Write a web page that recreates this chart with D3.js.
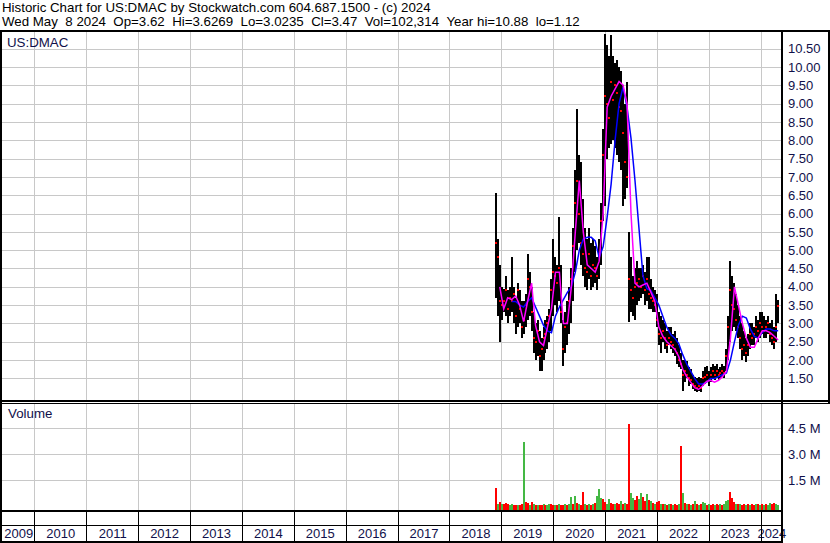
<!DOCTYPE html>
<html><head><meta charset="utf-8">
<script src="https://cdn.jsdelivr.net/npm/d3@7"></script>
<style>
body{margin:0;background:#fff;}
svg{display:block;font-family:"Liberation Sans",Arial,sans-serif;}
</style></head><body>
<svg id="c" width="830" height="543"></svg>
<script>
const headerLine1 = "Historic Chart for US:DMAC by Stockwatch.com 604.687.1500 - (c) 2024";
const headerLine2 = "Wed May  8 2024  Op=3.62  Hi=3.6269  Lo=3.0235  Cl=3.47  Vol=102,314  Year hi=10.88  lo=1.12";
const symbol = "US:DMAC";
const volumeTitle = "Volume";
const years = [2009,2010,2011,2012,2013,2014,2015,2016,2017,2018,2019,2020,2021,2022,2023,2024];
const priceTicks = [1.5,2,2.5,3,3.5,4,4.5,5,5.5,6,6.5,7,7.5,8,8.5,9,9.5,10,10.5];
const volumeTicks = [1.5,3.0,4.5];
const firstBarDate = "2018-11-23";
const barStepDays = 14;
const high = [6.55,5.3,4.6,4.0,3.95,4.3,3.9,4.0,4.8,4.0,
3.7,4.1,3.9,3.6,3.6,3.8,4.9,4.4,4.0,3.3,
3.0,3.1,2.8,2.6,2.9,3.1,3.2,3.4,4.2,5.3,
4.8,4.6,5.9,4.6,3.1,3.3,3.6,4.0,4.5,5.6,
7.2,8.84,7.6,7.4,6.4,5.6,5.3,5.6,5.2,5.3,
5.1,4.8,5.3,6.3,8.3,10.9,10.6,10.3,10.88,10.3,
10.1,10.2,10.0,9.9,9.5,9.0,9.6,5.5,4.8,4.3,
4.5,4.7,4.5,4.5,4.6,4.4,4.8,4.8,4.2,4.0,
3.9,3.8,3.3,3.2,3.1,3.0,2.8,2.9,2.9,2.7,
2.8,2.6,2.4,2.2,2.0,2.0,1.97,1.8,1.75,1.6,
1.55,1.5,1.55,1.5,1.7,1.8,1.85,1.7,1.8,1.9,
1.85,1.9,1.75,1.8,1.9,1.85,2.3,3.2,4.7,4.3,
4.1,3.8,3.5,3.2,3.0,2.8,2.6,2.7,3.0,3.0,
2.9,3.2,3.1,3.3,3.3,3.2,3.1,3.2,3.0,3.1,
2.9,3.8,3.63];
const low = [3.7,3.2,2.5,3.1,3.3,3.2,3.0,3.2,3.3,3.0,
2.7,2.9,3.0,2.6,2.7,2.9,3.1,3.2,2.8,2.2,
2.0,2.1,1.7,1.7,2.0,2.2,2.3,2.5,2.8,3.2,
3.5,3.3,3.6,3.0,1.85,2.2,2.4,2.7,3.0,3.6,
4.4,5.0,5.2,4.6,4.3,4.0,3.9,4.2,3.9,4.0,
4.1,3.9,4.2,4.6,5.8,6.2,7.5,7.8,7.9,8.0,
7.8,7.6,7.4,7.2,6.2,6.4,6.7,3.05,3.3,3.2,
3.1,3.5,3.6,3.7,3.8,3.5,3.6,3.4,3.4,3.3,
3.3,2.9,2.4,2.2,2.5,2.3,2.2,2.4,2.3,2.2,
2.1,1.9,1.8,1.75,1.15,1.4,1.5,1.3,1.35,1.2,
1.15,1.12,1.15,1.12,1.3,1.35,1.4,1.3,1.4,1.5,
1.45,1.5,1.45,1.5,1.55,1.5,1.7,2.0,2.5,2.8,
2.9,2.8,2.6,2.3,2.0,2.1,1.95,2.1,2.3,2.4,
2.4,2.6,2.5,2.6,2.7,2.6,2.6,2.7,2.5,2.4,
2.3,2.5,3.02];
const close = [5.2,4.8,3.6,3.5,3.6,3.9,3.4,3.7,3.6,3.8,
3.2,3.9,3.4,2.9,3.1,3.5,4.2,4.0,3.3,2.6,
2.5,2.8,2.1,2.3,2.6,2.7,3.0,3.2,3.9,4.4,
4.3,4.1,4.5,3.3,2.3,2.9,3.0,3.6,4.2,5.1,
6.3,6.9,6.0,5.2,4.9,4.5,4.4,4.9,4.3,4.6,
4.5,4.3,4.9,5.8,7.6,9.2,9.0,8.6,9.6,9.1,
9.5,9.3,8.9,8.8,8.2,7.4,7.0,4.2,3.9,3.7,
4.0,4.1,4.2,4.0,4.3,3.9,4.2,3.8,3.7,3.6,
3.5,3.1,2.7,2.6,2.8,2.6,2.4,2.6,2.5,2.4,
2.3,2.2,2.0,1.9,1.6,1.7,1.6,1.5,1.45,1.35,
1.3,1.25,1.3,1.25,1.5,1.55,1.6,1.45,1.6,1.7,
1.6,1.7,1.6,1.65,1.7,1.65,2.1,2.9,3.9,3.5,
3.4,3.1,2.9,2.6,2.3,2.4,2.2,2.4,2.7,2.6,
2.7,2.9,2.8,3.0,2.9,2.8,2.9,3.0,2.7,2.6,
2.5,2.9,3.47];
const volume = [1.07,0.15,0.25,0.12,0.15,0.18,0.12,0.1,0.13,0.1,
0.08,0.1,0.1,0.12,3.73,0.27,0.2,0.1,0.27,0.12,
0.1,0.08,0.1,0.08,0.12,0.1,0.08,0.15,0.12,0.1,
0.08,0.1,0.12,0.1,0.1,0.12,0.1,0.15,0.53,0.12,
0.6,0.2,0.15,0.1,0.83,0.12,0.1,0.15,0.1,0.13,
0.2,0.62,1.0,0.5,0.4,0.25,0.15,0.45,0.2,0.15,
0.12,0.18,0.15,0.3,0.12,0.2,0.15,4.75,0.78,0.48,
0.35,0.6,0.4,0.78,0.55,0.3,0.7,0.35,0.3,0.2,
0.15,0.25,0.32,0.15,0.12,0.15,0.1,0.12,0.15,0.1,
0.12,0.1,0.15,3.48,0.78,0.2,0.15,0.12,0.1,0.15,
0.3,0.12,0.1,0.12,0.25,0.2,0.1,0.15,0.1,0.12,
0.1,0.12,0.1,0.12,0.1,0.12,0.3,0.38,0.84,0.47,
0.25,0.15,0.12,0.15,0.1,0.12,0.1,0.12,0.1,0.12,
0.1,0.12,0.15,0.1,0.12,0.1,0.12,0.1,0.2,0.12,
0.18,0.12,0.1];
const volumeUp = [0,1,0,1,0,0,0,1,1,0,
0,1,0,0,1,0,0,1,0,1,
0,1,0,0,1,0,1,1,0,0,
1,0,1,0,0,1,0,1,1,0,
1,0,1,0,0,1,0,1,0,1,
0,1,1,1,0,0,1,1,0,0,
1,0,0,1,0,1,0,0,1,1,
0,0,1,1,0,0,1,0,1,0,
1,0,0,1,0,1,0,1,0,1,
0,0,1,0,1,0,1,0,1,0,
1,0,1,0,1,1,0,1,0,0,
1,0,0,1,0,1,1,1,0,0,
0,1,0,1,0,0,1,0,1,0,
0,1,0,1,0,1,0,1,1,0,
0,1,1];
// short moving average (magenta), one value every 2 bars starting at bar 2
const fastMAStartBar = 2;
const fastMA = [4.0,3.4,3.7,3.65,3.75,3.5,3.05,3.6,4.1,2.95,
2.5,2.4,2.9,3.4,4.4,4.4,3.0,3.0,4.0,5.5,
6.9,5.5,4.6,4.5,4.4,4.7,6.0,8.9,9.2,9.4,
9.6,9.5,9.0,6.0,4.1,4.0,4.05,4.1,3.85,3.6,
2.9,2.65,2.5,2.4,2.3,2.1,1.75,1.55,1.4,1.25,
1.2,1.3,1.42,1.45,1.4,1.45,1.55,1.7,2.6,4.0,
3.5,3.0,2.6,2.35,2.35,2.6,2.8,2.8,2.75,2.65,2.55];
// long moving average (blue), one value every 2 bars starting at bar 8
const slowMAStartBar = 8;
const slowMA = [3.6,3.6,3.5,3.45,3.6,3.7,3.45,3.2,2.95,2.8,
2.75,3.2,3.45,3.65,3.85,4.0,4.4,5.0,5.3,5.35,
5.35,5.25,4.8,5.1,5.9,6.8,8.0,9.0,9.45,8.9,
8.05,6.9,5.6,4.3,3.95,3.9,3.7,3.5,3.2,2.9,
2.7,2.6,2.45,2.15,1.9,1.7,1.5,1.35,1.35,1.4,
1.5,1.5,1.55,1.6,1.65,2.0,2.5,2.95,3.2,3.15,
2.85,2.65,2.6,2.75,2.85,2.85,2.8,2.8];

// ---------- layout ----------
const W = 830, H = 543;
const plotL = 2, plotR = 782, frameTop = 30;
const priceTop = 32, priceBottom = 400, volTop = 403, volBottom = 510;
const stripMid = 525, stripBottom = 542;
const textColor = "#10104a";

const svg = d3.select("#c");
svg.append("rect").attr("width", W).attr("height", H).attr("fill", "#fff");

const x = d3.scaleTime()
  .domain([new Date(2010,0,1), new Date(2024,0,1)])
  .range([34.4, 760.7]);
const y = d3.scaleLinear().domain([1, 11]).range([396.8, 30.2]);
const yv = d3.scaleLinear().domain([0, 4.5]).range([506.3, 428.3]);

const start = d3.timeParse("%Y-%m-%d")(firstBarDate);
const bars = high.map((h, i) => ({
  date: d3.timeDay.offset(start, barStepDays * i),
  hi: h, lo: low[i], cl: close[i], vol: volume[i], up: volumeUp[i]
}));

// header (spaces kept as non-breaking so the double gaps survive)
const keepSpaces = s => s.replace(/ /g, "\u00A0");
const header = svg.append("g").attr("fill", "#000").attr("font-size", "13.3px");
header.append("text").attr("x", 2).attr("y", 11.5).text(keepSpaces(headerLine1));
header.append("text").attr("x", 2).attr("y", 26).text(keepSpaces(headerLine2));

// grids
const grid = svg.append("g").attr("stroke", "#c8c8c8").attr("stroke-width", 1).attr("shape-rendering", "crispEdges");
const yearStarts = years.slice(1).map(yr => new Date(yr, 0, 1));
grid.selectAll(".vg1").data(yearStarts).join("line")
  .attr("x1", d => Math.round(x(d)) + 0.5).attr("x2", d => Math.round(x(d)) + 0.5)
  .attr("y1", priceTop).attr("y2", priceBottom);
grid.selectAll(".vg2").data(yearStarts).join("line")
  .attr("x1", d => Math.round(x(d)) + 0.5).attr("x2", d => Math.round(x(d)) + 0.5)
  .attr("y1", volTop).attr("y2", volBottom);
grid.selectAll(".hg").data(priceTicks).join("line")
  .attr("x1", plotL).attr("x2", plotR - 1)
  .attr("y1", d => Math.round(y(d)) + 0.5).attr("y2", d => Math.round(y(d)) + 0.5);
grid.selectAll(".hgv").data(volumeTicks).join("line")
  .attr("x1", plotL).attr("x2", plotR - 1)
  .attr("y1", d => Math.round(yv(d)) + 0.5).attr("y2", d => Math.round(yv(d)) + 0.5);

// volume bars
svg.append("g").attr("shape-rendering", "crispEdges")
  .selectAll("rect").data(bars).join("rect")
  .attr("x", d => Math.round(x(d.date)) - 1).attr("width", 2)
  .attr("y", d => Math.round(yv(d.vol)))
  .attr("height", d => volBottom - Math.round(yv(d.vol)))
  .attr("fill", d => d.up ? "#44b844" : "#ff0000");

// price bars
svg.append("g").attr("shape-rendering", "crispEdges")
  .selectAll("rect").data(bars).join("rect")
  .attr("x", d => Math.round(x(d.date)) - 1).attr("width", 2)
  .attr("y", d => Math.round(y(d.hi)))
  .attr("height", d => Math.max(1, Math.round(y(d.lo)) - Math.round(y(d.hi))))
  .attr("fill", "#000");
// close marks
svg.append("g").attr("shape-rendering", "crispEdges")
  .selectAll("rect").data(bars).join("rect")
  .attr("x", d => Math.round(x(d.date)) - 1).attr("width", 2)
  .attr("y", d => Math.round(y(d.cl)) - 1).attr("height", 2)
  .attr("fill", "#ff0000");

// moving averages
const fastPts = fastMA.map((v, k) => ({date: bars[fastMAStartBar + 2*k].date, v}));
const slowPts = slowMA.map((v, k) => ({date: bars[slowMAStartBar + 2*k].date, v}));
const maLine = d3.line().x(d => x(d.date)).y(d => y(d.v));
svg.append("path").datum(slowPts).attr("d", maLine)
  .attr("fill", "none").attr("stroke", "#0000ff").attr("stroke-width", 1.5);
svg.append("path").datum(fastPts).attr("d", maLine)
  .attr("fill", "none").attr("stroke", "#ff00ff").attr("stroke-width", 1.5);

// panel labels
svg.append("text").attr("x", 7).attr("y", 46.5).attr("font-size", "13.3px").attr("fill", textColor).text(symbol);
svg.append("text").attr("x", 8).attr("y", 417.5).attr("font-size", "13.3px").attr("fill", textColor).text(volumeTitle);

// right axes
const pAxis = d3.axisRight(y).tickValues(priceTicks).tickSize(0).tickPadding(5).tickFormat(d3.format(".2f"));
const pg = svg.append("g").attr("transform", `translate(${plotR + 1},0)`).call(pAxis);
const vAxis = d3.axisRight(yv).tickValues(volumeTicks).tickSize(0).tickPadding(5).tickFormat(d => d3.format(".1f")(d) + " M");
const vg = svg.append("g").attr("transform", `translate(${plotR + 1},0)`).call(vAxis);
[pg, vg].forEach(g => {
  g.select(".domain").remove();
  g.selectAll("text").attr("font-size", "13px").attr("fill", textColor)
    .attr("font-family", '"Liberation Sans",Arial,sans-serif');
});

// year axis (labels centred in the visible part of each year)
const yearCenters = years.map(yr => {
  const a = Math.max(x(new Date(yr,0,1)), plotL);
  const b = Math.min(x(new Date(yr+1,0,1)), plotR);
  return x.invert((a + b) / 2);
});
const xAxis = d3.axisBottom(x).tickValues(yearCenters).tickSize(0).tickPadding(0)
  .tickFormat((d, i) => String(years[i]));
const xg = svg.append("g").attr("transform", `translate(0,${stripMid + 3})`).call(xAxis);
xg.select(".domain").remove();
xg.selectAll("text").attr("font-size", "13px").attr("fill", textColor)
  .attr("font-family", '"Liberation Sans",Arial,sans-serif').attr("dy", "0.75em");

// frame
const frame = svg.append("g").attr("fill", "#000").attr("shape-rendering", "crispEdges");
frame.append("rect").attr("x", 0).attr("y", frameTop).attr("width", W).attr("height", 2);
frame.append("rect").attr("x", 0).attr("y", frameTop).attr("width", 2).attr("height", stripBottom + 1 - frameTop);
frame.append("rect").attr("x", plotR - 1).attr("y", frameTop).attr("width", 2).attr("height", stripBottom + 1 - frameTop);
frame.append("rect").attr("x", W - 2).attr("y", frameTop).attr("width", 2).attr("height", volTop + 1 - frameTop);
frame.append("rect").attr("x", 0).attr("y", priceBottom).attr("width", W).attr("height", 2);
frame.append("rect").attr("x", 0).attr("y", volTop).attr("width", W).attr("height", 1);
frame.append("rect").attr("x", 0).attr("y", volBottom).attr("width", plotR + 1).attr("height", 2);
frame.append("rect").attr("x", 0).attr("y", stripMid).attr("width", plotR + 1).attr("height", 1);
frame.append("rect").attr("x", 0).attr("y", stripBottom - 1).attr("width", plotR + 1).attr("height", 2);
frame.selectAll(".ys").data(yearStarts).join("rect")
  .attr("x", d => Math.round(x(d))).attr("width", 1)
  .attr("y", volBottom).attr("height", stripBottom - volBottom);
</script>
</body></html>
